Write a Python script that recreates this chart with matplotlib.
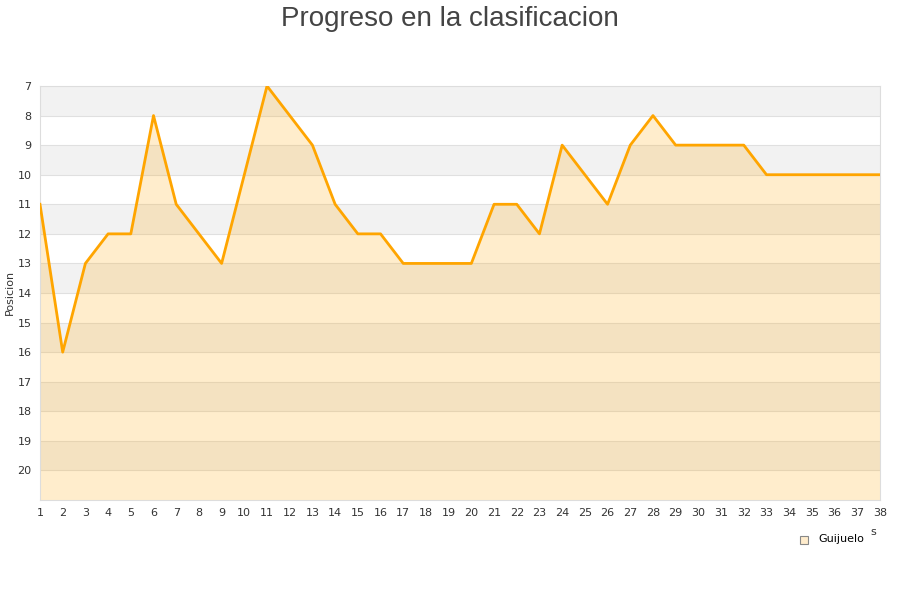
import numpy as np
import matplotlib.pyplot as plt

jornadas = list(range(1, 39))
posicion = [11, 16, 13, 12, 12, 8, 11, 12, 13, 10, 7, 8, 9, 11, 12, 12, 13, 13, 13, 13,
            11, 11, 12, 9, 10, 11, 9, 8, 9, 9, 9, 9, 10, 10, 10, 10, 10, 10]
equipo = "Guijuelo"
y_ticks = list(range(7, 21))

fig = plt.figure(figsize=(9, 6), dpi=100)
ax = fig.add_axes([40/900, 100/600, 840/900, 414/600])

# alternating background bands
for v in range(7, 21):
    col = '#f2f2f2' if (v - 7) % 2 == 0 else 'white'
    ax.axhspan(v, v + 1, color=col, zorder=0, lw=0)
for v in range(8, 21):
    ax.axhline(v, color='#e0e0e0', lw=0.8, zorder=1)

ax.fill_between(jornadas, posicion, 21, color='#ffa500', alpha=0.2, lw=0, zorder=2)
ax.plot(jornadas, posicion, color='#ffa500', lw=2, zorder=3)

ax.set_xlim(1, 38)
ax.set_ylim(21, 7)
ax.set_xticks(jornadas)
ax.set_yticks(y_ticks)
ax.tick_params(length=0, labelsize=8, colors='#333333', pad=6)
ax.tick_params(axis='y', pad=6)
for s in ax.spines.values():
    s.set_color('#dddddd')

fig.text(10/900, 1 - 292/600, 'Posicion', rotation=90, ha='center', va='center',
         fontsize=8, color='#333333')
fig.text(0.5, 0.99, 'Progreso en la clasificacion', ha='center', va='top',
         fontsize=20, color='#444444', family='Liberation Sans')
fig.text(873/900, 1 - 532/600, 's', ha='center', va='center', fontsize=8, color='#333333')

fig.patches.append(plt.Rectangle((800/900, 1 - 544/600), 8/900, 8/600, transform=fig.transFigure,
                                 facecolor='#ffeccc', edgecolor='#888888', lw=0.8))
fig.text(818/900, 1 - 539/600, equipo, ha='left', va='center', fontsize=8, color='black')

plt.savefig('out.png')
